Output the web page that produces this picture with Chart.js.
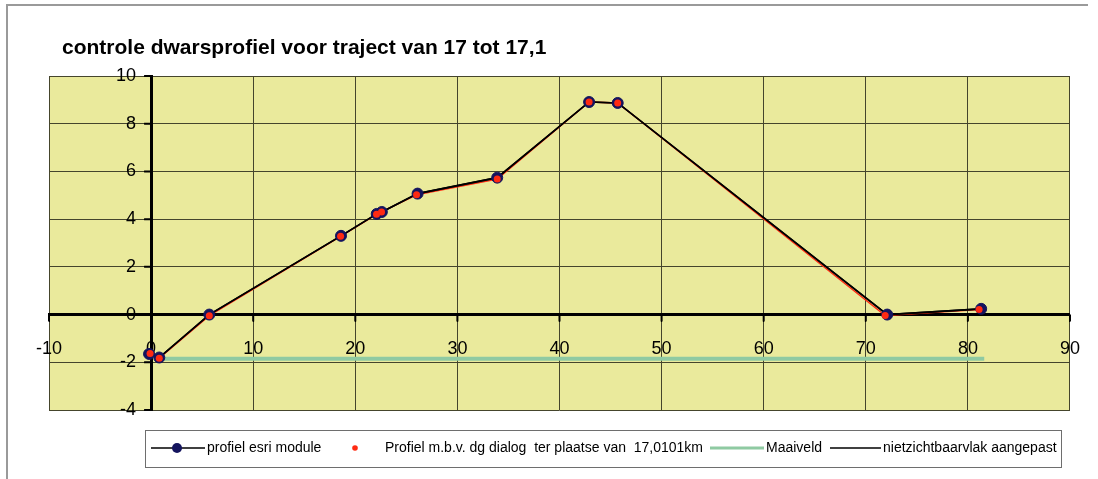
<!DOCTYPE html>
<html>
<head>
<meta charset="utf-8">
<script src="https://cdn.jsdelivr.net/npm/chart.js@4/dist/chart.umd.min.js"></script>
<style>
  html, body { margin: 0; padding: 0; background: #fff; }
  canvas { display: block; }
</style>
</head>
<body>
<canvas id="profileChart" width="1098" height="479"></canvas>
<script>
const chartTitle = 'controle dwarsprofiel voor traject van 17 tot 17,1';

// profiel esri module
const esriX = [-0.2, 0.8, 5.7, 18.6, 22.1, 22.6, 26.1, 33.9, 42.9, 45.7, 72.1, 81.3];
const esriY = [-1.65, -1.8, 0.0, 3.3, 4.22, 4.3, 5.07, 5.74, 8.91, 8.87, 0.0, 0.24];

// Profiel m.b.v. dg dialog
const dgX = [-0.1, 0.8, 5.7, 18.56, 22.08, 22.57, 26.0, 33.9, 42.9, 45.7, 71.9, 81.1];
const dgY = [-1.63, -1.83, -0.05, 3.28, 4.2, 4.3, 5.02, 5.68, 8.91, 8.87, -0.04, 0.21];

// Maaiveld
const mvX = [0.9, 81.6];
const mvY = [-1.85, -1.85];

// nietzichtbaarvlak aangepast
const nzX = [0.8, 5.7, 18.6, 22.1, 22.6, 26.1, 33.9, 42.9, 45.7, 72.1, 81.3];
const nzY = [-1.8, 0.0, 3.3, 4.22, 4.3, 5.07, 5.74, 8.91, 8.87, 0.0, 0.24];

const xMin = -10, xMax = 90, xStep = 10;
const yMin = -4, yMax = 10, yStep = 2;

const seriesLabels = [
    'profiel esri module',
    'Profiel m.b.v. dg dialog  ter plaatse van  17,0101km',
    'Maaiveld',
    'nietzichtbaarvlak aangepast'
];

function toPoints(xs, ys) {
    return xs.map((x, i) => ({ x: x, y: ys[i] }));
}

const FONT = '"Liberation Sans", Arial, sans-serif';
const NAVY = '#14145e';
const RED = '#ff2a12';
const GREEN = '#8fcaa2';

// plot background + outer frame + title
const frame = {
    id: 'frame',
    beforeDraw(chart) {
        const { ctx, chartArea: a } = chart;
        ctx.save();
        ctx.fillStyle = '#eaea9c';
        ctx.fillRect(a.left, a.top, a.right - a.left, a.bottom - a.top);
        ctx.strokeStyle = '#9a9a9a';
        ctx.lineWidth = 2;
        ctx.beginPath();
        ctx.moveTo(7, 479);
        ctx.lineTo(7, 5);
        ctx.lineTo(1088, 5);
        ctx.stroke();
        ctx.fillStyle = '#000';
        ctx.font = 'bold 21px ' + FONT;
        ctx.textBaseline = 'alphabetic';
        ctx.fillText(chartTitle, 62, 54);
        ctx.restore();
    },
    // short tick marks on the two crossing axes
    beforeDatasetsDraw(chart) {
        const { ctx, scales } = chart;
        const x0 = scales.x.getPixelForValue(0);
        const y0 = scales.y.getPixelForValue(0);
        ctx.save();
        ctx.strokeStyle = '#000';
        ctx.lineWidth = 2;
        ctx.beginPath();
        scales.x.ticks.forEach(t => {
            const px = scales.x.getPixelForValue(t.value);
            ctx.moveTo(px, y0);
            ctx.lineTo(px, y0 + 7);
        });
        scales.y.ticks.forEach(t => {
            const py = scales.y.getPixelForValue(t.value);
            ctx.moveTo(x0, py);
            ctx.lineTo(x0 - 7, py);
        });
        ctx.stroke();
        ctx.restore();
    }
};

// Excel style legend box under the plot
const legendBox = {
    id: 'legendBox',
    afterDraw(chart) {
        const ctx = chart.ctx;
        const cy = 448;
        ctx.save();
        ctx.strokeStyle = '#6e6e6e';
        ctx.lineWidth = 1;
        ctx.strokeRect(145.5, 430.5, 916, 37);
        ctx.font = '14px ' + FONT;
        ctx.fillStyle = '#000';
        ctx.textBaseline = 'middle';

        // item 1
        ctx.strokeStyle = '#000';
        ctx.lineWidth = 1.6;
        ctx.beginPath(); ctx.moveTo(151, cy); ctx.lineTo(205, cy); ctx.stroke();
        ctx.fillStyle = NAVY;
        ctx.beginPath(); ctx.arc(177, cy, 5, 0, Math.PI * 2); ctx.fill();
        ctx.fillStyle = '#000';
        ctx.fillText(seriesLabels[0], 207, cy);

        // item 2
        ctx.fillStyle = RED;
        ctx.beginPath(); ctx.arc(355, cy, 2.8, 0, Math.PI * 2); ctx.fill();
        ctx.fillStyle = '#000';
        ctx.fillText(seriesLabels[1], 385, cy);

        // item 3
        ctx.strokeStyle = GREEN;
        ctx.lineWidth = 3;
        ctx.beginPath(); ctx.moveTo(710, cy); ctx.lineTo(764, cy); ctx.stroke();
        ctx.fillText(seriesLabels[2], 766, cy);

        // item 4
        ctx.strokeStyle = '#000';
        ctx.lineWidth = 1.6;
        ctx.beginPath(); ctx.moveTo(830, cy); ctx.lineTo(881, cy); ctx.stroke();
        ctx.fillText(seriesLabels[3], 883, cy);
        ctx.restore();
    }
};

new Chart(document.getElementById('profileChart'), {
    type: 'scatter',
    data: {
        datasets: [
            {
                label: seriesLabels[1],
                data: toPoints(dgX, dgY),
                showLine: false,
                pointRadius: 3.5,
                pointBorderWidth: 0,
                pointBackgroundColor: RED,
                order: 0
            },
            {
                label: seriesLabels[0],
                data: toPoints(esriX, esriY),
                showLine: true,
                borderColor: '#000',
                borderWidth: 1.6,
                pointRadius: 5.5,
                pointBorderWidth: 1,
                pointBorderColor: NAVY,
                pointBackgroundColor: NAVY,
                order: 1
            },
            {
                label: seriesLabels[3],
                data: toPoints(nzX, nzY),
                showLine: true,
                borderColor: '#000',
                borderWidth: 1.6,
                pointRadius: 0,
                order: 2
            },
            {
                label: seriesLabels[1] + ' (lijn)',
                data: toPoints(dgX, dgY),
                showLine: true,
                borderColor: RED,
                borderWidth: 1.4,
                pointRadius: 0,
                order: 3
            },
            {
                label: seriesLabels[2],
                data: toPoints(mvX, mvY),
                showLine: true,
                borderColor: GREEN,
                borderWidth: 4,
                pointRadius: 0,
                order: 4
            }
        ]
    },
    options: {
        responsive: false,
        animation: false,
        devicePixelRatio: 1,
        layout: { padding: { left: 49, top: 76, right: 27, bottom: 69 } },
        plugins: {
            legend: { display: false },
            title: { display: false },
            tooltip: { enabled: false }
        },
        scales: {
            x: {
                type: 'linear',
                position: { y: 0 },
                min: xMin,
                max: xMax,
                ticks: {
                    stepSize: xStep,
                    color: '#000',
                    padding: 18,
                    font: { family: FONT, size: 18 }
                },
                grid: {
                    color: '#45452c',
                    lineWidth: 1,
                    drawTicks: true,
                    tickLength: 6,
                    tickColor: '#000'
                },
                border: { display: true, color: '#000', width: 3 }
            },
            y: {
                type: 'linear',
                position: { x: 0 },
                min: yMin,
                max: yMax,
                ticks: {
                    stepSize: yStep,
                    color: '#000',
                    font: { family: FONT, size: 18 },
                    // labels sit just left of the crossing axis
                    callback: v => v + '   '
                },
                grid: {
                    color: '#45452c',
                    lineWidth: 1,
                    drawTicks: true,
                    tickLength: 6,
                    tickColor: '#000'
                },
                border: { display: true, color: '#000', width: 3 }
            }
        }
    },
    plugins: [frame, legendBox]
});
</script>
</body>
</html>
